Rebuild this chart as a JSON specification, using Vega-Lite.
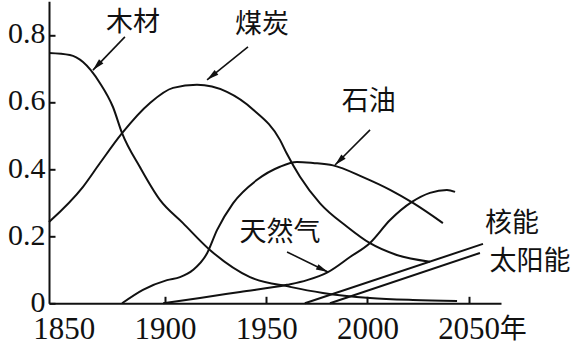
{
  "$schema": "https://vega.github.io/schema/vega-lite/v6.json",
  "width": 452,
  "height": 302,
  "autosize": {"type": "none"},
  "padding": {"left": 49, "top": 1.3, "right": 77, "bottom": 44},
  "background": "white",
  "config": {"view": {"stroke": null}},
  "datasets": {
    "curves": [
      {"energy": "木材", "year": 1842.7, "value": 0.746},
      {"energy": "木材", "year": 1853.0, "value": 0.740},
      {"energy": "木材", "year": 1859.5, "value": 0.719},
      {"energy": "木材", "year": 1867.9, "value": 0.656},
      {"energy": "木材", "year": 1874.3, "value": 0.585},
      {"energy": "木材", "year": 1878.8, "value": 0.507},
      {"energy": "木材", "year": 1887.6, "value": 0.406},
      {"energy": "木材", "year": 1897.5, "value": 0.308},
      {"energy": "木材", "year": 1908.9, "value": 0.239},
      {"energy": "木材", "year": 1922.2, "value": 0.159},
      {"energy": "木材", "year": 1942.0, "value": 0.078},
      {"energy": "木材", "year": 1961.8, "value": 0.049},
      {"energy": "木材", "year": 1978.0, "value": 0.031},
      {"energy": "木材", "year": 2001.3, "value": 0.016},
      {"energy": "木材", "year": 2022.5, "value": 0.010},
      {"energy": "木材", "year": 2044.3, "value": 0.007},
      {"energy": "煤炭", "year": 1842.7, "value": 0.242},
      {"energy": "煤炭", "year": 1859.5, "value": 0.347},
      {"energy": "煤炭", "year": 1867.9, "value": 0.418},
      {"energy": "煤炭", "year": 1878.8, "value": 0.507},
      {"energy": "煤炭", "year": 1892.6, "value": 0.597},
      {"energy": "煤炭", "year": 1904.0, "value": 0.642},
      {"energy": "煤炭", "year": 1915.8, "value": 0.651},
      {"energy": "煤炭", "year": 1930.6, "value": 0.630},
      {"energy": "煤炭", "year": 1943.6, "value": 0.577},
      {"energy": "煤炭", "year": 1956.8, "value": 0.487},
      {"energy": "煤炭", "year": 1960.1, "value": 0.447},
      {"energy": "煤炭", "year": 1966.7, "value": 0.377},
      {"energy": "煤炭", "year": 1976.6, "value": 0.298},
      {"energy": "煤炭", "year": 1989.8, "value": 0.229},
      {"energy": "煤炭", "year": 2001.3, "value": 0.179},
      {"energy": "煤炭", "year": 2014.5, "value": 0.144},
      {"energy": "煤炭", "year": 2030.9, "value": 0.124},
      {"energy": "石油", "year": 1878.8, "value": 0.0},
      {"energy": "石油", "year": 1889.1, "value": 0.040},
      {"energy": "石油", "year": 1901.0, "value": 0.069},
      {"energy": "石油", "year": 1907.4, "value": 0.078},
      {"energy": "石油", "year": 1913.8, "value": 0.099},
      {"energy": "石油", "year": 1920.8, "value": 0.149},
      {"energy": "石油", "year": 1925.7, "value": 0.218},
      {"energy": "石油", "year": 1933.6, "value": 0.298},
      {"energy": "石油", "year": 1945.5, "value": 0.368},
      {"energy": "石油", "year": 1956.8, "value": 0.407},
      {"energy": "石油", "year": 1965.2, "value": 0.421},
      {"energy": "石油", "year": 1973.1, "value": 0.418},
      {"energy": "石油", "year": 1983.0, "value": 0.411},
      {"energy": "石油", "year": 1997.8, "value": 0.376},
      {"energy": "石油", "year": 2011.2, "value": 0.338},
      {"energy": "石油", "year": 2022.5, "value": 0.299},
      {"energy": "石油", "year": 2037.3, "value": 0.239},
      {"energy": "天然气", "year": 1899.1, "value": 0.0},
      {"energy": "天然气", "year": 1917.3, "value": 0.016},
      {"energy": "天然气", "year": 1937.1, "value": 0.034},
      {"energy": "天然气", "year": 1960.3, "value": 0.055},
      {"energy": "天然气", "year": 1970.2, "value": 0.069},
      {"energy": "天然气", "year": 1980.5, "value": 0.093},
      {"energy": "天然气", "year": 1991.4, "value": 0.138},
      {"energy": "天然气", "year": 2001.3, "value": 0.180},
      {"energy": "天然气", "year": 2011.2, "value": 0.248},
      {"energy": "天然气", "year": 2022.0, "value": 0.302},
      {"energy": "天然气", "year": 2030.9, "value": 0.329},
      {"energy": "天然气", "year": 2039.3, "value": 0.338},
      {"energy": "天然气", "year": 2043.3, "value": 0.332},
      {"energy": "核能", "year": 1969.1, "value": 0.0},
      {"energy": "核能", "year": 2057.1, "value": 0.177},
      {"energy": "太阳能", "year": 1981.5, "value": 0.0},
      {"energy": "太阳能", "year": 2055.6, "value": 0.150}
    ],
    "labels": [
      {"text": "木材", "year": 1884.2, "value": 0.836},
      {"text": "煤炭", "year": 1947.9, "value": 0.828},
      {"text": "石油", "year": 2000.7, "value": 0.600},
      {"text": "天然气", "year": 1956.8, "value": 0.210},
      {"text": "核能", "year": 2071.4, "value": 0.236},
      {"text": "太阳能", "year": 2080.3, "value": 0.123},
      {"text": "年", "year": 2072.0, "value": -0.080}
    ],
    "arrows": [
      {"name": "木材", "x1": 1880.2, "y1": 0.794, "x2": 1864.4, "y2": 0.695},
      {"name": "煤炭", "x1": 1941.0, "y1": 0.764, "x2": 1920.8, "y2": 0.666},
      {"name": "石油", "x1": 2001.3, "y1": 0.517, "x2": 1984.0, "y2": 0.412},
      {"name": "天然气", "x1": 1960.3, "y1": 0.153, "x2": 1980.5, "y2": 0.093}
    ]
  },
  "layer": [
    {
      "data": {"name": "curves"},
      "mark": {"type": "line", "interpolate": "monotone", "color": "#111111", "strokeWidth": 2},
      "encoding": {
        "x": {
          "field": "year", "type": "quantitative",
          "scale": {"domain": [1842.7, 2066], "nice": false, "zero": false},
          "axis": {
            "values": [1850, 1900, 1950, 2000, 2050],
            "title": null, "grid": false,
            "domainColor": "#111111", "domainWidth": 2,
            "tickColor": {"condition": {"test": "datum.value == 1850", "value": "transparent"}, "value": "#111111"},
            "tickSize": -7, "tickWidth": 2,
            "labelFont": "Liberation Serif", "labelFontSize": 31, "labelColor": "#111111",
            "labelPadding": 18, "labelFlush": false, "labelOverlap": false, "format": "d"
          }
        },
        "y": {
          "field": "value", "type": "quantitative",
          "scale": {"domain": [0, 0.9], "nice": false},
          "axis": {
            "values": [0, 0.1, 0.2, 0.3, 0.4, 0.5, 0.6, 0.7, 0.8],
            "labelExpr": "datum.value < 0.01 ? '0' : (round(datum.value * 10) % 2 == 0 ? format(datum.value, '.1f') : '')",
            "title": null, "grid": false,
            "domainColor": "#111111", "domainWidth": 2,
            "tickColor": "#111111", "tickSize": -6, "tickWidth": 2,
            "labelFont": "Liberation Serif", "labelFontSize": 30, "labelColor": "#111111",
            "labelPadding": 10, "labelOffset": -1, "labelOverlap": false
          }
        },
        "detail": {"field": "energy"}
      }
    },
    {
      "data": {"name": "arrows"},
      "mark": {"type": "rule", "color": "#111111", "strokeWidth": 1.6},
      "encoding": {
        "x": {"field": "x1", "type": "quantitative"},
        "y": {"field": "y1", "type": "quantitative"},
        "x2": {"field": "x2"},
        "y2": {"field": "y2"}
      }
    },
    {
      "data": {"name": "arrows"},
      "transform": [{"filter": "datum.name == '木材'"}],
      "mark": {"type": "point", "shape": "M0,0L0.6,2.4L-0.6,2.4Z", "filled": true, "size": 100, "angle": 223.6, "color": "#111111", "opacity": 1},
      "encoding": {"x": {"field": "x2", "type": "quantitative"}, "y": {"field": "y2", "type": "quantitative"}}
    },
    {
      "data": {"name": "arrows"},
      "transform": [{"filter": "datum.name == '煤炭'"}],
      "mark": {"type": "point", "shape": "M0,0L0.6,2.4L-0.6,2.4Z", "filled": true, "size": 100, "angle": 231.3, "color": "#111111", "opacity": 1},
      "encoding": {"x": {"field": "x2", "type": "quantitative"}, "y": {"field": "y2", "type": "quantitative"}}
    },
    {
      "data": {"name": "arrows"},
      "transform": [{"filter": "datum.name == '石油'"}],
      "mark": {"type": "point", "shape": "M0,0L0.6,2.4L-0.6,2.4Z", "filled": true, "size": 100, "angle": 225, "color": "#111111", "opacity": 1},
      "encoding": {"x": {"field": "x2", "type": "quantitative"}, "y": {"field": "y2", "type": "quantitative"}}
    },
    {
      "data": {"name": "arrows"},
      "transform": [{"filter": "datum.name == '天然气'"}],
      "mark": {"type": "point", "shape": "M0,0L0.6,2.4L-0.6,2.4Z", "filled": true, "size": 100, "angle": 115.7, "color": "#111111", "opacity": 1},
      "encoding": {"x": {"field": "x2", "type": "quantitative"}, "y": {"field": "y2", "type": "quantitative"}}
    },
    {
      "mark": {"type": "rule", "color": "#111111", "strokeWidth": 2},
      "encoding": {"x": {"datum": 2066, "type": "quantitative"}, "y": {"datum": 0, "type": "quantitative"}, "x2": {"datum": 2068}}
    },
    {
      "mark": {"type": "point", "shape": "M0,0L0.7,3L-0.7,3Z", "filled": true, "size": 100, "angle": 90, "color": "#111111", "opacity": 1},
      "encoding": {"x": {"datum": 2068, "type": "quantitative"}, "y": {"datum": 0, "type": "quantitative"}}
    },
    {
      "mark": {"type": "point", "shape": "M0,0L0.7,3L-0.7,3Z", "filled": true, "size": 100, "angle": 0, "color": "#111111", "opacity": 1},
      "encoding": {"x": {"datum": 1842.7, "type": "quantitative"}, "y": {"datum": 0.9, "type": "quantitative"}}
    },
    {
      "data": {"name": "labels"},
      "mark": {"type": "text", "font": "Noto Sans CJK SC", "fontSize": 27, "color": "#111111", "align": "center", "baseline": "middle"},
      "encoding": {
        "x": {"field": "year", "type": "quantitative"},
        "y": {"field": "value", "type": "quantitative"},
        "text": {"field": "text"}
      }
    }
  ]
}
